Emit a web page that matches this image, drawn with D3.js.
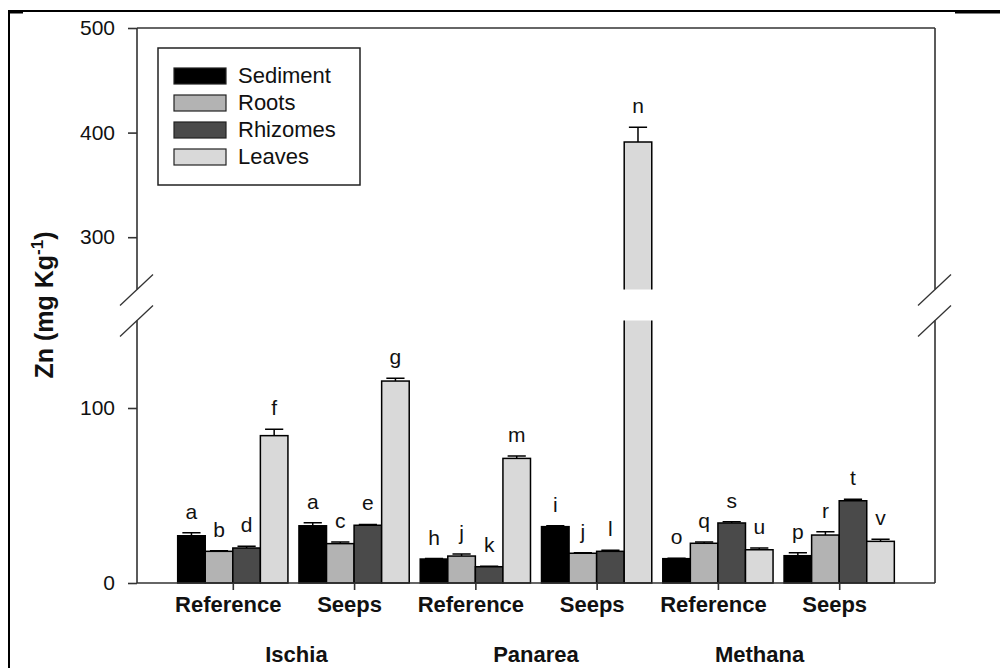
<!DOCTYPE html>
<html>
<head>
<meta charset="utf-8">
<script src="https://cdn.jsdelivr.net/npm/d3@7"></script>
<style>
  html, body { margin: 0; padding: 0; background: #fff; }
  svg { display: block; font-family: "Liberation Sans", Arial, sans-serif; }
</style>
</head>
<body>
<svg id="chart" width="1000" height="668"></svg>
<script>
// Zn concentration in sediment and seagrass tissues at three vent sites
const sites = ["Ischia", "Panarea", "Methana"];
const conditions = ["Reference", "Seeps", "Reference", "Seeps", "Reference", "Seeps"];
const tissues = ["Sediment", "Roots", "Rhizomes", "Leaves"];

const sediment = [27.0, 32.7, 13.7, 32.2, 13.9, 15.6];
const roots    = [18.1, 22.5, 15.4, 17.0, 22.7, 27.4];
const rhizomes = [20.0, 33.0,  9.3, 18.1, 34.3, 47.0];
const leaves   = [84.2, 115.4, 71.2, 391.0, 19.0, 23.8];

const sedimentErr = [1.7, 1.8, 0.3, 0.5, 0.2, 1.7];
const rootsErr    = [0.4, 0.9, 1.2, 0.3, 0.8, 1.9];
const rhizomesErr = [1.0, 0.5, 0.3, 0.6, 0.7, 0.8];
const leavesErr   = [3.6, 1.6, 1.4, 14.0, 1.0, 1.2];

const sedimentLetters = ["a", "a", "h", "i", "o", "p"];
const rootsLetters    = ["b", "c", "j", "j", "q", "r"];
const rhizomesLetters = ["d", "e", "k", "l", "s", "t"];
const leavesLetters   = ["f", "g", "m", "n", "u", "v"];

const lowerTicks = [0, 100];
const upperTicks = [300, 400, 500];
const lowerDomain = [0, 150];
const upperDomain = [250, 500];

const tissueFill = ["#000000", "#b3b3b3", "#4a4a4a", "#d9d9d9"];

const series = [
  { values: sediment, errs: sedimentErr, letters: sedimentLetters },
  { values: roots,    errs: rootsErr,    letters: rootsLetters },
  { values: rhizomes, errs: rhizomesErr, letters: rhizomesLetters },
  { values: leaves,   errs: leavesErr,   letters: leavesLetters }
];

const svg = d3.select("#chart");

// plot frame geometry
const plotLeft = 137, plotRight = 935, plotTop = 28, plotBottom = 583;
const lowTop = 320.5, highBottom = 289.5;
const axisColor = "#333";

const x = d3.scaleLinear().domain([-0.79, 5.79]).range([plotLeft, plotRight]);
const yLow = d3.scaleLinear().domain(lowerDomain).range([plotBottom, lowTop]);
const yHigh = d3.scaleLinear().domain(upperDomain).range([highBottom, plotTop]);
const y = v => v <= lowerDomain[1] ? yLow(v) : yHigh(v);

const barUnit = 0.2273;           // width of one bar in group units
const bw = x(barUnit) - x(0);

// outer figure border
svg.append("rect")
  .attr("x", 9).attr("y", 11).attr("width", 1010).attr("height", 700)
  .attr("fill", "none").attr("stroke", "#000").attr("stroke-width", 2);
svg.append("line").attr("x1", 955).attr("x2", 1000).attr("y1", 12).attr("y2", 12)
  .attr("stroke", "#000").attr("stroke-width", 3);
svg.append("line").attr("x1", 8).attr("x2", 23).attr("y1", 12).attr("y2", 12)
  .attr("stroke", "#000").attr("stroke-width", 3);

// bars
const g = svg.append("g");
series.forEach((s, k) => {
  s.values.forEach((v, i) => {
    const x0 = x(i) + (k - 2) * bw;
    const cx = x0 + bw / 2;
    if (v <= lowerDomain[1]) {
      g.append("rect")
        .attr("x", x0).attr("y", y(v))
        .attr("width", bw).attr("height", plotBottom - y(v))
        .attr("fill", tissueFill[k]).attr("stroke", "#000").attr("stroke-width", 1.5);
    } else {
      // bar crosses the axis break: draw both pieces with open ends at the gap
      g.append("rect").attr("x", x0).attr("y", lowTop).attr("width", bw)
        .attr("height", plotBottom - lowTop).attr("fill", tissueFill[k]);
      g.append("rect").attr("x", x0).attr("y", y(v)).attr("width", bw)
        .attr("height", highBottom - y(v)).attr("fill", tissueFill[k]);
      g.append("path")
        .attr("d", `M${x0},${lowTop}V${plotBottom}H${x0 + bw}V${lowTop}` +
                   `M${x0},${highBottom}V${y(v)}H${x0 + bw}V${highBottom}`)
        .attr("fill", "none").attr("stroke", "#000").attr("stroke-width", 1.5);
    }
    // upper error bar
    const ye = y(v + s.errs[i]);
    const cap = bw * 0.33;
    g.append("path")
      .attr("d", `M${cx},${y(v)}V${ye}M${cx - cap},${ye}H${cx + cap}`)
      .attr("fill", "none").attr("stroke", "#000").attr("stroke-width", 1.5);
    // significance letter
    g.append("text")
      .attr("x", cx).attr("y", ye - 14)
      .attr("text-anchor", "middle")
      .attr("font-size", 21)
      .attr("fill", "#111")
      .text(s.letters[i]);
  });
});

// frame lines (with breaks on both vertical sides)
const frame = svg.append("g").attr("stroke", axisColor).attr("stroke-width", 1.6).attr("fill", "none");
frame.append("path").attr("d", `M${plotLeft},${plotBottom}H${plotRight}`);
frame.append("path").attr("d", `M${plotLeft},${plotTop}H${plotRight}`);
[plotLeft, plotRight].forEach(xx => {
  frame.append("path").attr("d", `M${xx},${plotBottom}V${lowTop}M${xx},${highBottom}V${plotTop}`);
  [highBottom, lowTop].forEach(yy => {
    frame.append("line")
      .attr("x1", xx - 17).attr("y1", yy + 16)
      .attr("x2", xx + 16).attr("y2", yy - 15)
      .attr("stroke-width", 1.3);
  });
});

// y axes (two segments)
function styleAxis(sel) {
  sel.select(".domain").remove();
  sel.selectAll(".tick line").attr("stroke", axisColor).attr("stroke-width", 1.6);
  sel.selectAll(".tick text").attr("font-size", 21).attr("fill", "#111")
    .attr("font-family", "'Liberation Sans', Arial, sans-serif");
}
svg.append("g").attr("transform", `translate(${plotLeft},0)`)
  .call(d3.axisLeft(yLow).tickValues(lowerTicks).tickSize(9).tickPadding(13))
  .call(styleAxis);
svg.append("g").attr("transform", `translate(${plotLeft},0)`)
  .call(d3.axisLeft(yHigh).tickValues(upperTicks).tickSize(9).tickPadding(13))
  .call(styleAxis);

// x axis: condition labels
const xAxis = svg.append("g").attr("transform", `translate(0,${plotBottom})`)
  .call(d3.axisBottom(x).tickValues(d3.range(conditions.length)).tickSize(7).tickPadding(6)
    .tickFormat(i => conditions[i]));
xAxis.call(styleAxis);
xAxis.selectAll(".tick text").attr("font-size", 22).attr("font-weight", "bold")
  .attr("dx", -5);

// site labels centred under each pair
const siteNudge = [3, 0, -19];
svg.append("g").selectAll("text").data(sites).join("text")
  .attr("x", (d, i) => (x(2 * i) + x(2 * i + 1)) / 2 + siteNudge[i])
  .attr("y", 662)
  .attr("text-anchor", "middle")
  .attr("font-size", 22).attr("font-weight", "bold").attr("fill", "#111")
  .text(d => d);

// y axis title
const title = svg.append("text")
  .attr("transform", "translate(53,305) rotate(-90)")
  .attr("text-anchor", "middle")
  .attr("font-size", 25).attr("font-weight", "bold").attr("fill", "#111");
title.append("tspan").text("Zn (mg Kg");
title.append("tspan").attr("font-size", 17).attr("dy", -10).text("-1");
title.append("tspan").attr("dy", 10).text(")");

// legend
const legend = svg.append("g");
legend.append("rect").attr("x", 158).attr("y", 48).attr("width", 202).attr("height", 137)
  .attr("fill", "#fff").attr("stroke", "#222").attr("stroke-width", 1.5);
tissues.forEach((t, k) => {
  const ry = 68 + k * 27;
  legend.append("rect").attr("x", 174).attr("y", ry).attr("width", 52).attr("height", 16)
    .attr("fill", tissueFill[k]).attr("stroke", "#222").attr("stroke-width", 1.2);
  legend.append("text").attr("x", 238).attr("y", ry + 15)
    .attr("font-size", 22).attr("fill", "#111").text(t);
});
</script>
</body>
</html>
